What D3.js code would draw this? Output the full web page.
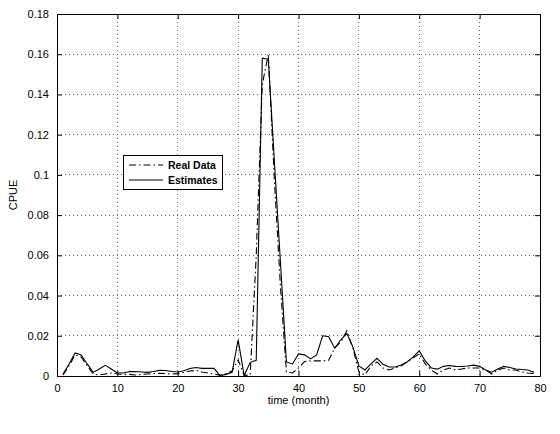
<!DOCTYPE html>
<html>
<head>
<meta charset="utf-8">
<script src="https://cdn.jsdelivr.net/npm/d3@7"></script>
<style>
  body { margin: 0; background: #fff; }
  svg { display: block; font-family: "Liberation Sans", Arial, sans-serif; }
</style>
</head>
<body>
<svg></svg>
<script>
var months = [1, 2, 3, 4, 5, 6, 7, 8, 9, 10, 11, 12, 13, 14, 15, 16, 17, 18, 19, 20,
  21, 22, 23, 24, 25, 26, 27, 28, 29, 30, 31, 32, 33, 34, 35, 36, 37, 38, 39, 40,
  41, 42, 43, 44, 45, 46, 47, 48, 49, 50, 51, 52, 53, 54, 55, 56, 57, 58, 59, 60,
  61, 62, 63, 64, 65, 66, 67, 68, 69, 70, 71, 72, 73, 74, 75, 76, 77, 78, 79]

var realData = [0.0005, 0.005, 0.0105, 0.0095, 0.005, 0.001, 0.0005, 0.001, 0.0015, 0.001,
  0.0008, 0.0008, 0.0005, 0.0008, 0.001, 0.0012, 0.0013, 0.0012, 0.001, 0.0012,
  0.0018, 0.0025, 0.0028, 0.002, 0.0015, 0.001, 0.0003, 0.0012, 0.0025, 0.008,
  0.0003, 0.0005, 0.06, 0.145, 0.16, 0.098, 0.045, 0.002, 0.0015, 0.004,
  0.0072, 0.0075, 0.0075, 0.0075, 0.0078, 0.014, 0.017, 0.0225, 0.014, 0.002,
  0.0005, 0.005, 0.007, 0.004, 0.003, 0.004, 0.005, 0.007, 0.009, 0.011,
  0.006, 0.003, 0.001, 0.003, 0.004, 0.003, 0.0035, 0.004, 0.004, 0.004,
  0.003, 0.001, 0.003, 0.004, 0.003, 0.003, 0.002, 0.0015, 0.0012]

var estimates = [0.001, 0.006, 0.0115, 0.0105, 0.006, 0.0018, 0.0035, 0.0053, 0.0035, 0.0015,
  0.0015, 0.0022, 0.0022, 0.002, 0.0018, 0.0022, 0.0028, 0.0027, 0.0022, 0.002,
  0.0026, 0.0037, 0.0042, 0.0038, 0.0038, 0.0038, 0.0002, 0.0008, 0.0018, 0.018,
  0.0002, 0.0068, 0.0078, 0.158, 0.1575, 0.107, 0.057, 0.007, 0.006, 0.011,
  0.0105, 0.0085, 0.0105, 0.02, 0.0195, 0.0138, 0.018, 0.0212, 0.0145, 0.005,
  0.003, 0.006, 0.0088, 0.0058, 0.0045, 0.0045, 0.0055, 0.007, 0.0095, 0.0125,
  0.0075, 0.004, 0.0034, 0.0048, 0.0052, 0.0048, 0.0047, 0.005, 0.0054, 0.0048,
  0.003, 0.0019, 0.0035, 0.0048, 0.0042, 0.0035, 0.0032, 0.003, 0.0019]

var xTicks = [0, 10, 20, 30, 40, 50, 60, 70, 80]
var yTicks = [0, 0.02, 0.04, 0.06, 0.08, 0.1, 0.12, 0.14, 0.16, 0.18]
var seriesNames = ["Real Data", "Estimates"]

var width = 560
var height = 434
var margin = { top: 14, right: 20, bottom: 58, left: 57 }
var innerW = width - margin.left - margin.right
var innerH = height - margin.top - margin.bottom

var svg = d3.select('svg').attr('width', width).attr('height', height)

var x = d3.scaleLinear().domain([0, 80]).range([0, innerW])
var y = d3.scaleLinear().domain([0, 0.18]).range([innerH, 0])

var g = svg.append('g').attr('transform', 'translate(' + margin.left + ',' + margin.top + ')')

// dotted grid
g.append('g').selectAll('line')
  .data(xTicks.slice(1, -1))
  .enter().append('line')
  .attr('x1', d => x(d)).attr('x2', d => x(d))
  .attr('y1', 0).attr('y2', innerH)
  .attr('stroke', '#666').attr('stroke-width', 1)
  .attr('stroke-dasharray', '1,3')
  .attr('shape-rendering', 'crispEdges')
g.append('g').selectAll('line')
  .data(yTicks.slice(1, -1))
  .enter().append('line')
  .attr('y1', d => y(d)).attr('y2', d => y(d))
  .attr('x1', 0).attr('x2', innerW)
  .attr('stroke', '#666').attr('stroke-width', 1)
  .attr('stroke-dasharray', '1,3')
  .attr('shape-rendering', 'crispEdges')

// axes, ticks pointing inward like matlab
var xAxis = d3.axisBottom(x).tickValues(xTicks).tickSize(-5).tickPadding(8).tickFormat(d3.format('d'))
var yAxis = d3.axisLeft(y).tickValues(yTicks).tickSize(-5).tickPadding(8).tickFormat(d => d === 0 ? '0' : String(+d.toFixed(2)))
var xTop = d3.axisTop(x).tickValues(xTicks).tickSize(-5).tickFormat('')
var yRight = d3.axisRight(y).tickValues(yTicks).tickSize(-5).tickFormat('')

g.append('g').attr('transform', 'translate(0,' + innerH + ')').call(xAxis)
g.append('g').call(yAxis)
g.append('g').call(xTop)
g.append('g').attr('transform', 'translate(' + innerW + ',0)').call(yRight)
g.selectAll('.domain').attr('stroke', '#000')
g.selectAll('.tick line').attr('stroke', '#000')
g.selectAll('.tick text').attr('font-size', 11).attr('fill', '#000')
  .attr('font-family', '"Liberation Sans", Arial, sans-serif')

// lines
var line = d3.line()
  .x((d, i) => x(months[i]))
  .y(d => y(d))

g.append('path')
  .datum(estimates)
  .attr('fill', 'none')
  .attr('stroke', '#000')
  .attr('stroke-width', 1.1)
  .attr('d', line)

g.append('path')
  .datum(realData)
  .attr('fill', 'none')
  .attr('stroke', '#000')
  .attr('stroke-width', 1.1)
  .attr('stroke-dasharray', '7,3,1.5,3')
  .attr('d', line)

// axis labels
svg.append('text')
  .attr('x', margin.left + innerW / 2)
  .attr('y', 404)
  .attr('text-anchor', 'middle')
  .attr('font-size', 11)
  .text('time (month)')

svg.append('text')
  .attr('transform', 'translate(17,' + (margin.top + innerH / 2) + ') rotate(-90)')
  .attr('text-anchor', 'middle')
  .attr('font-size', 11)
  .text('CPUE')

// legend
var legend = svg.append('g').attr('transform', 'translate(123,155)')
legend.append('rect')
  .attr('width', 99).attr('height', 34)
  .attr('fill', '#fff').attr('stroke', '#000').attr('stroke-width', 1)
  .attr('shape-rendering', 'crispEdges')
var items = legend.selectAll('g.item')
  .data(seriesNames)
  .enter().append('g')
  .attr('class', 'item')
  .attr('transform', (d, i) => 'translate(0,' + (10 + i * 15) + ')')
items.append('line')
  .attr('x1', 6).attr('x2', 40)
  .attr('stroke', '#000').attr('stroke-width', 1.1)
  .attr('stroke-dasharray', (d, i) => i === 0 ? '7,3,1.5,3' : null)
items.append('text')
  .attr('x', 45).attr('dy', '0.35em')
  .attr('font-size', 10.5).attr('font-weight', 'bold')
  .text(d => d)
</script>
</body>
</html>
